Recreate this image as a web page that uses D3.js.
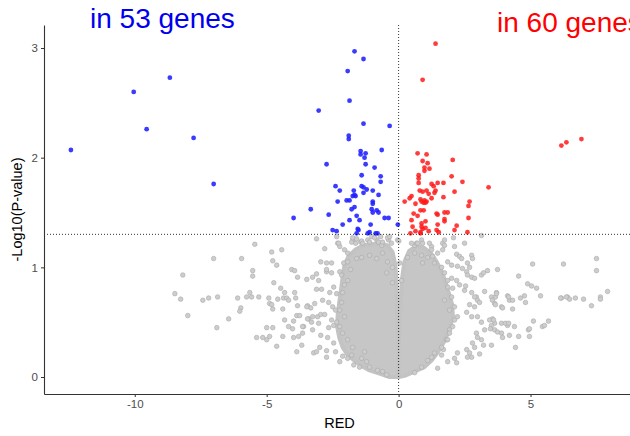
<!DOCTYPE html>
<html><head><meta charset="utf-8">
<script src="https://cdn.jsdelivr.net/npm/d3@7"></script>
<style>body{margin:0;background:#fff}svg{display:block}</style>
</head><body><svg id="c" width="630" height="436"></svg>
<script>
const xTicks = [-10, -5, 0, 5];
const yTicks = [0, 1, 2, 3];
const pThreshold = 1.30103;
const xLabel = "RED";
const yLabel = "-Log10(P-value)";
const downTitle = "in 53 genes";
const upTitle = "in 60 genes";

// significant, negative fold change [RED, -log10 p]
const downGenes = [
[-12.42,2.07],[-10.04,2.60],[-9.55,2.26],[-8.67,2.73],[-7.77,2.18],[-7.01,1.76],
[-3.98,1.45],[-3.33,1.53],[-3.03,2.43],[-1.67,2.97],[-1.33,2.90],[-1.93,2.79],
[-1.86,2.52],[-1.33,2.31],[-0.34,2.29],[-1.89,2.20],[-1.89,2.17],[-1.44,2.06],
[-1.44,2.03],[-1.25,2.04],[-0.64,2.07],[-1.29,2.00],[-1.25,1.94],[-2.73,1.94],
[-0.91,1.91],[-1.40,1.84],[-0.68,1.83],[-0.68,1.78],[-2.39,1.74],[-1.40,1.74],
[-1.33,1.73],[-1.21,1.71],[-2.23,1.70],[-1.70,1.70],[-1.33,1.68],[-0.98,1.70],
[-1.74,1.65],[-1.67,1.66],[-1.63,1.65],[-0.76,1.66],[-2.31,1.60],[-1.97,1.61],
[-1.86,1.61],[-1.67,1.55],[-1.78,1.53],[-0.98,1.60],[-0.98,1.58],[-1.02,1.53],
[-0.98,1.50],[-0.83,1.52],[-0.76,1.50],[-2.65,1.48],[-1.59,1.47],[-1.48,1.43],
[-1.86,1.43],[-0.53,1.45],[-0.38,1.45],[-2.12,1.39],[-1.06,1.39],[-0.03,1.39],
[-2.50,1.34],[-2.35,1.33],[-1.55,1.35],[-1.52,1.34],[-1.59,1.31],[-1.10,1.32],
[-1.17,1.31],[-0.87,1.31],[-0.80,1.31]
];

// significant, positive fold change
const upGenes = [
[1.40,3.04],[0.91,2.71],[6.17,2.11],[6.36,2.14],[6.93,2.17],[0.72,2.04],[1.06,2.03],
[2.05,1.98],[0.91,1.97],[1.10,1.95],[0.98,1.91],[0.98,1.88],[1.17,1.90],[0.76,1.84],
[0.76,1.81],[2.01,1.83],[2.42,1.78],[0.76,1.77],[1.25,1.76],[1.33,1.74],[1.48,1.77],
[1.70,1.77],[3.41,1.73],[0.80,1.70],[0.91,1.69],[1.06,1.70],[1.14,1.67],[1.36,1.68],
[1.40,1.70],[2.12,1.69],[0.49,1.65],[0.42,1.63],[0.23,1.60],[1.70,1.64],[1.25,1.63],
[0.83,1.62],[0.87,1.60],[0.98,1.61],[1.06,1.60],[0.95,1.59],[1.02,1.59],[0.64,1.58],
[2.69,1.60],[2.65,1.56],[0.83,1.52],[0.95,1.52],[0.57,1.49],[0.72,1.47],[1.44,1.49],
[1.48,1.48],[1.74,1.50],[1.86,1.50],[1.74,1.44],[1.74,1.42],[2.65,1.45],[0.49,1.43],
[0.87,1.40],[1.02,1.42],[1.48,1.39],[2.20,1.38],[0.53,1.37],[0.87,1.37],[0.91,1.35],
[1.02,1.36],[2.12,1.34],[1.44,1.34],[1.52,1.32],[0.64,1.33],[0.45,1.31],[0.83,1.32],
[0.83,1.31],[1.14,1.33],[2.61,1.32]
];

// not significant genes (individually visible ones)
const nsGenes = [
[-5.45,1.21],[-7.01,1.08],[-5.95,1.08],[-4.81,1.14],[-4.43,1.16],[-4.77,1.06],[-4.62,1.02],
[-8.18,0.93],[-5.53,0.97],[-5.53,0.92],[-4.05,0.98],[-3.94,0.97],[-3.83,0.91],[-3.48,0.89],
[-3.26,0.91],[-3.11,0.94],[-3.03,0.88],[-2.95,1.05],[-2.80,1.17],[-3.11,1.26],[-2.73,0.96],
[-4.73,0.86],[-4.47,0.81],[-4.32,0.77],[-3.11,0.80],[-2.92,0.80],[-8.48,0.76],[-8.26,0.71],
[-7.42,0.70],[-7.20,0.72],[-6.86,0.73],[-6.10,0.72],[-5.76,0.73],[-5.64,0.77],[-5.57,0.73],
[-5.30,0.73],[-4.92,0.72],[-4.89,0.67],[-4.81,0.66],[-4.58,0.71],[-4.36,0.72],[-4.24,0.72],
[-4.17,0.70],[-3.94,0.77],[-3.90,0.72],[-5.98,0.63],[-6.02,0.60],[-4.77,0.62],[-4.39,0.62],
[-3.83,0.65],[-3.45,0.65],[-3.33,0.63],[-7.99,0.56],[-6.44,0.53],[-4.32,0.52],[-3.86,0.56],
[-3.75,0.56],[-3.98,0.51],[-3.41,0.53],[-3.07,0.55],[-2.95,0.57],[-6.89,0.45],[-5.00,0.45],
[-4.77,0.45],[-4.17,0.46],[-4.02,0.44],[-3.60,0.46],[-3.30,0.50],[-5.38,0.36],[-5.15,0.36],
[-5.00,0.34],[-4.89,0.37],[-4.39,0.37],[-3.98,0.36],[-3.79,0.37],[-3.64,0.40],[-4.62,0.28],
[-3.86,0.23],[-3.67,0.29],[-3.22,0.22],[-3.11,0.23],
[-2.31,1.22],[-2.23,1.19],[-2.05,1.16],[-1.93,1.13],[-1.74,1.25],[-1.63,1.22],[-1.44,1.23],
[-1.17,1.25],[-1.10,1.23],[-0.83,1.25],[-0.76,1.23],[-0.64,1.20],[-0.38,1.25],[-0.27,1.22],
[-0.04,1.25],[-0.23,0.86],[-2.08,1.04],[-1.93,1.05],[-1.82,0.98],[-2.23,0.96],[-2.16,0.93],
[-2.54,0.95],[-2.73,1.04],[-2.46,0.82],[-2.61,0.77],[-2.35,0.76],[-2.88,0.70],[-2.65,0.68],
[-2.50,0.64],[-2.80,0.57],[-2.54,0.52],[-2.35,0.50],[-2.65,0.45],[-3.03,0.49],[-3.26,0.43],
[-2.95,0.38],[-2.69,0.36],[-2.46,0.31],[-2.99,0.27],[-2.73,0.24],[-2.39,0.23],[-2.12,0.19],
[-2.23,0.14],[-1.93,0.17],[-1.70,0.11],[-1.48,0.09],[-1.21,0.14],[-0.80,0.06],[-0.45,0.02],
[-1.29,0.23],[-2.35,1.28],[-2.27,1.22],[-1.78,1.23],[-1.74,1.27],[-1.59,1.26],[-1.40,1.24],
[-1.36,1.22],[-1.02,1.28],[-0.91,1.27],[-0.68,1.28],[-0.61,1.23],[-0.42,1.27],[-0.34,1.28],
[0.01,1.24],[0.61,1.20],[0.68,1.22],[0.87,1.25],[0.91,1.22],[1.25,1.19],[1.67,1.22],
[1.74,1.25],[2.08,1.27],[2.50,1.22],[3.14,1.29],
[0.49,1.22],[0.72,1.22],[1.17,1.22],[2.12,1.19],[1.25,1.16],[1.67,1.16],[1.74,1.20],
[1.48,1.13],[1.10,1.09],[1.29,1.10],[0.87,1.11],[2.20,1.12],[2.31,1.10],[2.39,1.08],
[2.77,1.11],[2.80,1.08],[2.61,1.04],[2.69,1.00],[1.86,1.05],[2.01,1.02],[2.23,1.01],
[2.42,0.99],[2.58,0.96],[2.61,0.93],[2.77,0.91],[2.88,0.90],[3.14,0.93],[3.22,0.95],
[3.37,0.97],[3.75,0.98],[5.08,1.03],[6.25,1.03],[4.55,0.92],[4.89,0.85],[5.04,0.83],
[5.23,0.81],[3.26,0.78],[3.71,0.77],[3.52,0.73],[3.56,0.70],[3.64,0.67],[4.13,0.74],
[4.20,0.70],[4.32,0.70],[4.62,0.72],[4.77,0.74],[4.81,0.68],[5.38,0.74],[6.17,0.72],
[6.40,0.73],[3.90,0.64],[4.32,0.62],[2.95,0.73],[2.99,0.70],[3.07,0.68],[2.77,0.77],
[2.88,0.73],[2.50,0.79],[2.01,0.90],[2.20,0.88],[2.31,0.84],[2.54,0.83],[1.86,0.82],
[2.05,0.81],[2.99,0.55],[2.77,0.55],[2.58,0.59],[2.88,0.64],[2.69,0.66],[3.14,0.50],
[3.56,0.53],[3.64,0.49],[3.52,0.47],[3.90,0.49],[4.13,0.47],[4.39,0.46],[5.11,0.51],
[5.68,0.51],[5.45,0.46],[4.92,0.43],[3.48,0.44],[3.64,0.43],[3.75,0.41],[3.90,0.40],
[3.94,0.36],[4.20,0.38],[4.55,0.37],[4.96,0.37],[3.26,0.43],[2.95,0.40],[2.99,0.36],
[3.14,0.34],[2.80,0.31],[2.88,0.27],[3.22,0.29],[3.52,0.29],[4.43,0.27],[2.58,0.25],
[2.69,0.22],[2.77,0.18],[2.23,0.22],[2.12,0.17],[2.61,0.18],[3.07,0.21],[1.86,0.14],
[2.20,0.13],[1.48,0.08],[1.25,0.18],[1.63,0.20],
[7.50,1.08],[7.50,0.97],[7.92,0.78],[7.65,0.73],[7.65,0.71],[7.31,0.65],[7.01,0.71],
[6.70,0.72],[6.48,0.71],[6.36,0.73],[6.14,0.72],[3.67,0.73],[3.71,0.76],[4.17,0.73],
[3.67,0.66],[3.94,0.63],[5.53,0.47],[4.96,0.44],[4.05,0.49],[4.17,0.49],[3.45,0.52],
[3.60,0.52],[-3.18,0.67],[-3.48,0.64],[-3.45,0.53],[-3.26,0.55],[-3.64,0.46],[-2.73,0.18],
[-2.54,1.04],[-2.73,0.98],[1.74,0.70],[1.93,0.61],[2.12,0.52],[1.93,0.43],[1.82,0.34],
[1.70,0.25],[-2.39,0.61],[-2.46,0.47],
[-1.59,1.08],[-1.40,1.09],[-1.10,1.11],[-0.83,1.08],[-0.61,1.13],[-0.42,1.05],[-0.23,1.00],
[-0.45,0.95],[-1.93,0.88],[-2.05,0.84],[-2.12,0.77],[-2.16,0.68],[-2.23,0.61],[-2.05,0.55],
[-2.23,0.46],[-2.12,0.40],[-1.93,0.34],[-1.74,0.27],[-1.78,0.20],[-1.40,0.17],[-1.10,0.09],
[-0.61,0.05],[0.34,1.09],[0.61,1.13],[0.91,1.04],[1.36,1.04],[1.63,1.00],[1.74,0.95],
[1.86,0.88],[2.01,0.73],[2.12,0.64],[2.23,0.55],[2.05,0.46],[1.93,0.40],[1.86,0.34],
[1.63,0.27],[1.36,0.22],[1.10,0.15],[0.87,0.09],[0.61,0.04],[0.04,1.04],[0.11,0.88]
];

// outline of the solid, overplotted mass of non-significant genes
const nsCoreLeft = [
[0,0],[-0.34,0],[-0.72,0.03],[-1.10,0.06],[-1.40,0.10],[-1.67,0.15],[-1.93,0.20],
[-2.12,0.27],[-2.25,0.36],[-2.33,0.46],[-2.31,0.56],[-2.25,0.68],[-2.18,0.80],[-2.12,0.92],
[-2.05,1.02],[-1.90,1.10],[-1.65,1.16],[-1.35,1.20],[-1.00,1.21],[-0.70,1.22],[-0.42,1.20],
[-0.23,1.14],[-0.12,1.02],[-0.08,0.85],[-0.06,0.65],[-0.04,0.45],[0,0.30]
];
const nsCoreRight = [
[0,0.30],[0.04,0.50],[0.08,0.70],[0.12,0.88],[0.22,1.05],[0.40,1.15],[0.65,1.19],
[0.95,1.18],[1.22,1.13],[1.42,1.06],[1.60,0.98],[1.76,0.88],[1.90,0.77],[2.03,0.66],
[2.06,0.55],[1.92,0.43],[1.72,0.32],[1.50,0.23],[1.25,0.15],[0.98,0.09],[0.61,0.05],
[0.23,0.01],[0,0]
];

const svg = d3.select("#c");
const x = d3.scaleLinear().domain([-13.44, 8.96]).range([44, 635]);
const y = d3.scaleLinear().domain([-0.155, 3.21]).range([394, 25]);

// dense core
const line = d3.line().x(d => x(d[0])).y(d => y(d[1])).curve(d3.curveLinearClosed);
[nsCoreLeft, nsCoreRight].forEach(c => {
  svg.append("path").attr("d", line(c))
    .attr("fill", "#c6c6c6").attr("stroke", "#c3c3c3")
    .attr("stroke-width", 4).attr("stroke-linejoin", "round");
});

svg.append("g").selectAll("circle").data(nsGenes).join("circle")
  .attr("cx", d => x(d[0])).attr("cy", d => y(d[1])).attr("r", 2.3)
  .attr("fill", "#cdcdcd").attr("stroke", "#a9a9a9").attr("stroke-width", 0.6);

svg.append("g").selectAll("circle").data(downGenes).join("circle")
  .attr("cx", d => x(d[0])).attr("cy", d => y(d[1])).attr("r", 2.4)
  .attr("fill", "#2020ff").attr("fill-opacity", 0.88);

svg.append("g").selectAll("circle").data(upGenes).join("circle")
  .attr("cx", d => x(d[0])).attr("cy", d => y(d[1])).attr("r", 2.4)
  .attr("fill", "#ff1a1a").attr("fill-opacity", 0.85);

// reference lines
svg.append("line").attr("x1", x(0)).attr("x2", x(0)).attr("y1", y.range()[1]).attr("y2", y.range()[0])
  .attr("stroke", "#000").attr("stroke-width", 0.8).attr("stroke-dasharray", "1,2");
svg.append("line").attr("x1", x.range()[0]).attr("x2", x.range()[1]).attr("y1", y(pThreshold)).attr("y2", y(pThreshold))
  .attr("stroke", "#000").attr("stroke-width", 0.8).attr("stroke-dasharray", "1,2");

// axes
const font = "Liberation Sans, Arial, sans-serif";
const gx = svg.append("g").attr("transform", `translate(0,${y.range()[0]})`)
  .call(d3.axisBottom(x).tickValues(xTicks).tickSize(3).tickSizeOuter(0).tickPadding(3)
    .tickFormat(d => d));
const gy = svg.append("g").attr("transform", `translate(${x.range()[0]},0)`)
  .call(d3.axisLeft(y).tickValues(yTicks).tickSize(3).tickSizeOuter(0).tickPadding(3)
    .tickFormat(d => d));
[gx, gy].forEach(g => {
  g.select(".domain").attr("stroke", "#333").attr("stroke-width", 1.1);
  g.selectAll(".tick line").attr("stroke", "#333").attr("stroke-width", 1);
  g.selectAll(".tick text").attr("fill", "#4d4d4d").style("font-family", font).style("font-size", "11.5px");
});

svg.append("text").attr("x", (x.range()[0] + x.range()[1]) / 2).attr("y", 428)
  .attr("text-anchor", "middle").style("font-family", font).style("font-size", "14.5px")
  .attr("fill", "#000").text(xLabel);
svg.append("text").attr("transform", `translate(22,${(y.range()[0] + y.range()[1]) / 2}) rotate(-90)`)
  .attr("text-anchor", "middle").style("font-family", font).style("font-size", "14.5px")
  .attr("fill", "#000").text(yLabel);

svg.append("text").attr("x", 90).attr("y", 28).style("font-family", font).style("font-size", "28px")
  .attr("fill", "#0000ee").text(downTitle);
svg.append("text").attr("x", 497).attr("y", 32).style("font-family", font).style("font-size", "28px")
  .attr("fill", "#ff0000").text(upTitle);
</script></body></html>
